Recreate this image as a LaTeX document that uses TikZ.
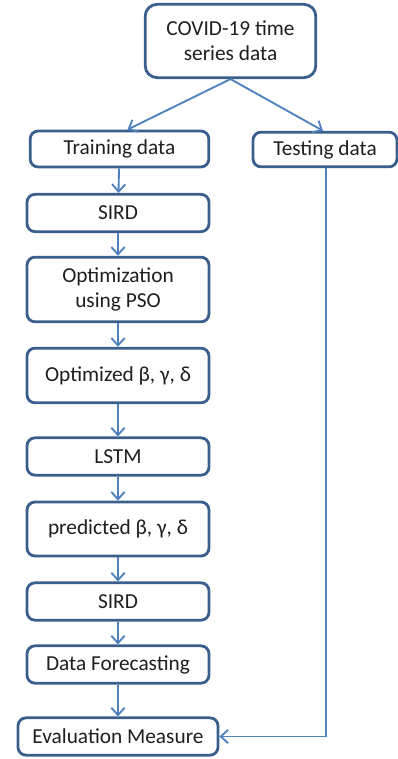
\documentclass[tikz,border=0pt]{standalone}
\usepackage{fontspec}
\setmainfont{Carlito}
\usepackage{xcolor}
\usepackage{tikz}
\usetikzlibrary{calc,arrows.meta}

\definecolor{boxblue}{HTML}{3A5F8C}
\definecolor{lineblue}{HTML}{4F81BD}

\begin{document}
\begin{tikzpicture}[x=0.75pt,y=-0.75pt,
                stepbox/.style={draw=boxblue, line width=2.1pt, rounded corners=6pt, fill=white,
                                inner sep=2pt, align=center, font=\fontsize{16}{19}\selectfont,
                                text=black!88, minimum width=136.5pt, minimum height=28pt},
                flow/.style={draw=lineblue, line width=1.4pt, -{Straight Barb[length=5.5pt,width=10pt]}}]
                \useasboundingbox (0,0) rectangle (398,759);
                \node [stepbox, minimum width=128pt, minimum height=55pt, rounded corners=9pt] (data) at (230.5,41) {COVID-19 time\\series data};
                \node [stepbox, minimum width=134pt, minimum height=27pt] (train) at (119.5,149) {Training data};
                \node [stepbox, minimum width=108pt, minimum height=26pt] (test) at (325,149.5) {Testing data};
                \node [stepbox] (sird) at (118,213) {SIRD};
                \node [stepbox, minimum height=48.5pt] (pso) at (118,289.5) {Optimization\\using PSO};
                \node [stepbox, minimum height=41pt] (optpar) at (118,375.5) {Optimized β, γ, δ};
                \node [stepbox] (lstm) at (118,456.5) {LSTM};
                \node [stepbox, minimum height=40.5pt] (predpar) at (118,529) {predicted β, γ, δ};
                \node [stepbox] (sirdb) at (118,601.5) {SIRD};
                \node [stepbox] (fcast) at (118,664.5) {Data Forecasting};
                \node [stepbox, minimum width=150pt] (eval) at (118,736.5) {Evaluation Measure};
                % split of the data
                \draw [flow] (data.south) -- ([xshift=6pt]train.north);
                \draw [flow] (data.south) -- ([xshift=-1.5pt]test.north);
                % main chain
                \draw [flow] (train) -- (sird);
                \draw [flow] (sird) -- (pso);
                \draw [flow] (pso) -- (optpar);
                \draw [flow] (optpar) -- (lstm);
                \draw [flow] (lstm) -- (predpar);
                \draw [flow] (predpar) -- (sirdb);
                \draw [flow] (sirdb) -- (fcast);
                \draw [flow] (fcast) -- (eval);
                % test data goes to evaluation
                \draw [flow] ([xshift=0.75pt]test.south) |- (eval.east);
\end{tikzpicture}
\end{document}
